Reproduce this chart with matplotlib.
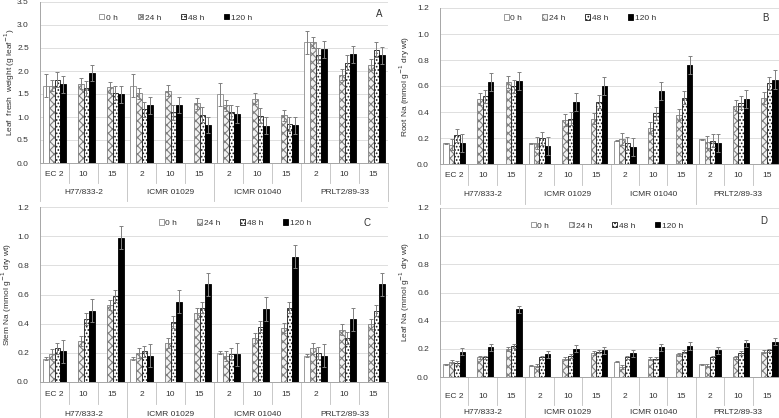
import matplotlib.pyplot as plt
import numpy as np

plt.rcParams['font.family'] = ['Liberation Sans', 'DejaVu Sans']
plt.rcParams['hatch.linewidth'] = 0.8

W, H = 779, 418

ec_labels = ['EC 2', '10', '15', '2', '10', '15', '2', '10', '15', '2', '10', '15']
genotypes = ['H77/833-2', 'ICMR 01029', 'ICMR 01040', 'PRLT2/89-33']
times = ['0 h', '24 h', '48 h', '120 h']
nan = np.nan

# A: leaf fresh weight
fw_0   = [1.68, nan, nan, 1.68, nan, nan, 1.49, nan, nan, 2.62, nan, nan]
fw_24  = [1.68, 1.72, 1.65, 1.52, 1.57, 1.30, 1.26, 1.40, 1.04, 2.62, 1.92, 2.14]
fw_48  = [1.81, 1.62, 1.52, 1.17, 1.10, 1.05, 1.10, 1.03, 0.85, 2.34, 2.18, 2.46]
fw_120 = [1.71, 1.96, 1.49, 1.25, 1.26, 0.83, 1.06, 0.81, 0.82, 2.47, 2.36, 2.34]
fw_err = [0.25, 0.12, 0.16, 0.18]

# B: root Na
rt_0   = [0.16, nan, nan, 0.16, nan, nan, 0.18, nan, nan, 0.19, nan, nan]
rt_24  = [0.15, 0.50, 0.63, 0.16, 0.34, 0.35, 0.19, 0.28, 0.38, 0.17, 0.45, 0.51]
rt_48  = [0.22, 0.52, 0.60, 0.20, 0.35, 0.48, 0.16, 0.39, 0.51, 0.18, 0.47, 0.62]
rt_120 = [0.16, 0.63, 0.64, 0.14, 0.48, 0.60, 0.13, 0.56, 0.76, 0.16, 0.50, 0.65]
rt_err = [0.005, 0.045, 0.05, 0.07]

# C: stem Na
st_0   = [0.16, nan, nan, 0.16, nan, nan, 0.20, nan, nan, 0.18, nan, nan]
st_24  = [0.19, 0.28, 0.53, 0.20, 0.27, 0.47, 0.18, 0.30, 0.37, 0.23, 0.36, 0.40]
st_48  = [0.23, 0.43, 0.59, 0.21, 0.41, 0.51, 0.19, 0.38, 0.51, 0.20, 0.30, 0.49]
st_120 = [0.21, 0.49, 0.99, 0.18, 0.55, 0.67, 0.19, 0.50, 0.86, 0.18, 0.43, 0.67]
st_err = [0.01, 0.035, 0.04, 0.08]

# D: leaf Na
lf_0   = [0.09, nan, nan, 0.08, nan, nan, 0.11, nan, nan, 0.09, nan, nan]
lf_24  = [0.11, 0.14, 0.20, 0.08, 0.13, 0.17, 0.07, 0.13, 0.16, 0.08, 0.14, 0.18]
lf_48  = [0.10, 0.14, 0.22, 0.14, 0.15, 0.18, 0.14, 0.13, 0.18, 0.14, 0.17, 0.19]
lf_120 = [0.18, 0.21, 0.48, 0.16, 0.20, 0.19, 0.17, 0.21, 0.22, 0.19, 0.24, 0.25]
lf_err = [0.005, 0.012, 0.012, 0.025]

fig = plt.figure(figsize=(W / 100, H / 100), dpi=100)

styles = [dict(color='white', edgecolor='#8c8c8c', hatch=None),
          dict(color='#f2f2f2', edgecolor='#7f7f7f', hatch='xxxx'),
          dict(color='white', edgecolor='#1a1a1a', hatch='.....'),
          dict(color='black', edgecolor='black', hatch=None)]
txt = '#333333'


def panel(box, series, err, ymax, ystep, ylabel, ylab_x, letter, leg_y, leg_x, rows):
    left, top, right, bottom = box
    ax = fig.add_axes([left / W, 1 - bottom / H, (right - left) / W, (bottom - top) / H])
    hpx = bottom - top
    x = np.arange(len(ec_labels))
    w = 0.19
    handles = []
    for k, vals in enumerate(series):
        st = styles[k]
        b = ax.bar(x + (k - 1.5) * w, vals, w, color=st['color'], edgecolor=st['edgecolor'],
                   hatch=st['hatch'], linewidth=0.6, zorder=3, label=times[k])
        ax.errorbar(x + (k - 1.5) * w, vals, yerr=err[k], fmt='none', ecolor='#808080',
                    elinewidth=0.7, capsize=1.5, capthick=0.7, zorder=4)
        handles.append(b)
    ax.set_xlim(-0.5, 11.5)
    ax.set_ylim(0, ymax)
    ticks = np.arange(0, ymax + 1e-9, ystep)
    ax.set_yticks(ticks)
    ax.set_yticklabels([f'{v:.1f}' for v in ticks])
    ax.tick_params(axis='y', length=0, labelsize=6, colors=txt, pad=8)
    ax.set_xticks([])
    ax.grid(axis='y', color='#d9d9d9', linewidth=0.6, zorder=0)
    for s in ['top', 'right']:
        ax.spines[s].set_visible(False)
    for s in ['left', 'bottom']:
        ax.spines[s].set_color('#a6a6a6')
        ax.spines[s].set_linewidth(0.7)
    fig.text(ylab_x / W, 1 - (top + bottom) / 2 / H, ylabel, rotation=90,
             ha='center', va='center', fontsize=6, color=txt)

    tr = ax.get_xaxis_transform()
    r1, r2, r3 = rows
    for i, lab in enumerate(ec_labels):
        ax.text(i, -r1 / hpx, lab, transform=tr, ha='center', va='center', fontsize=6, color=txt)
    for g, name in enumerate(genotypes):
        ax.text(3 * g + 1, -r2 / hpx, name, transform=tr, ha='center', va='center', fontsize=6, color=txt)
    for i in range(13):
        depth = r3 if i % 3 == 0 else (r1 + r2) / 2
        ax.plot([i - 0.5, i - 0.5], [0, -depth / hpx], transform=tr, color='#bfbfbf',
                linewidth=0.6, clip_on=False)

    ax.legend(handles=handles, loc='center', bbox_to_anchor=(leg_x, 1 - leg_y / hpx),
              ncol=4, frameon=False, fontsize=6, handlelength=0.6, handleheight=0.6,
              handletextpad=0.2, columnspacing=2.4, labelcolor=txt)
    ax.text(letter[0], 1 - letter[1] / hpx, letter[2], transform=ax.transAxes,
            ha='center', va='center', fontsize=7, color=txt)
    return ax


panel((40, 2, 388, 163), [fw_0, fw_24, fw_48, fw_120], fw_err, 3.5, 0.5,
      'Leaf  fresh  weight (g leaf$^{-1}$)', 10, (0.975, 12, 'A'), 16, 0.39, (11, 29, 38))
panel((440, 8, 781, 164), [rt_0, rt_24, rt_48, rt_120], rt_err, 1.2, 0.2,
      'Root Na (mmol g$^{-1}$ dry wt)', 405, (0.955, 10, 'B'), 10, 0.41, (11, 30, 40))
panel((40, 207, 388, 382), [st_0, st_24, st_48, st_120], st_err, 1.2, 0.2,
      'Stem Na (mmol g$^{-1}$ dry wt)', 7, (0.94, 16, 'C'), 16, 0.56, (12, 32, 40))
panel((440, 208, 781, 377), [lf_0, lf_24, lf_48, lf_120], lf_err, 1.2, 0.2,
      'Leaf Na (mmol g$^{-1}$ dry wt)', 405, (0.95, 13, 'D'), 18, 0.49, (20, 36, 45))

fig.savefig('out.png', dpi=100)
